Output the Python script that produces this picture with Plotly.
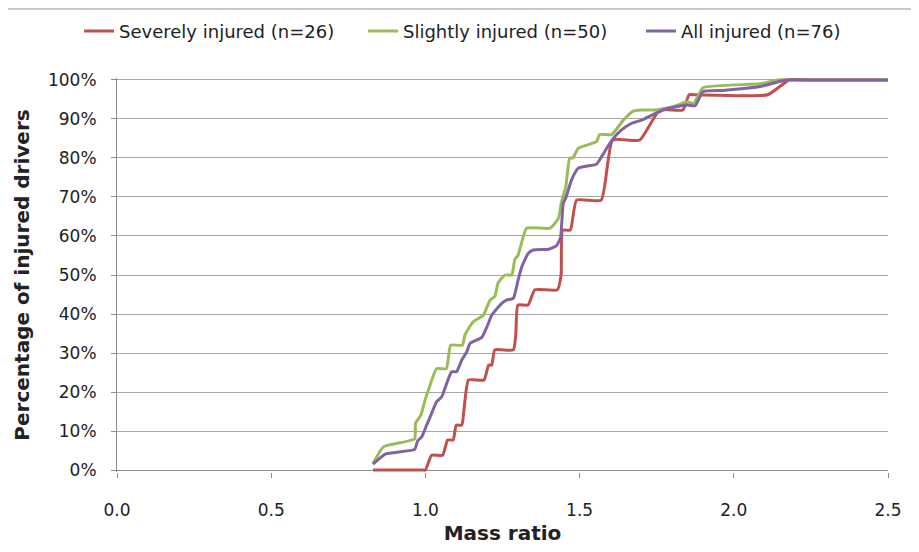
import plotly.graph_objects as go

# cumulative share of injured drivers vs mass ratio
severe_x = [0.83, 0.99, 1.00, 1.02, 1.056, 1.072, 1.09, 1.10, 1.118, 1.125, 1.14, 1.19, 1.205,
            1.215, 1.225, 1.285, 1.293, 1.30, 1.333, 1.355, 1.428, 1.44, 1.445, 1.47, 1.49,
            1.57, 1.607, 1.695, 1.76, 1.835, 1.855, 1.875, 2.11, 2.18, 2.25, 2.5]
severe_y = [0, 0, 0, 3.8, 3.8, 7.7, 7.7, 11.5, 11.5, 15.4, 23.1, 23.1, 26.9,
            26.9, 30.8, 30.8, 34.6, 42.3, 42.3, 46.2, 46.2, 50.0, 61.5, 61.5, 69.2,
            69.2, 84.6, 84.6, 92.3, 92.3, 96.2, 96.2, 96.2, 100, 100, 100]

slight_x = [0.83, 0.865, 0.965, 0.968, 0.985, 0.999, 1.01, 1.036, 1.068, 1.082, 1.12, 1.128,
            1.155, 1.188, 1.21, 1.225, 1.236, 1.258, 1.28, 1.29, 1.30, 1.31, 1.328, 1.404,
            1.431, 1.442, 1.455, 1.468, 1.478, 1.496, 1.555, 1.565, 1.604, 1.642, 1.674, 1.70,
            1.745, 1.805, 1.847, 1.87, 1.90, 2.085, 2.14, 2.2, 2.5]
slight_y = [1.7, 6, 8, 12, 14, 18, 20.5, 26, 26, 32, 32, 34.6,
            38, 39.7, 43.6, 44.5, 48, 50, 50, 54, 55, 57.7, 62, 62,
            64.5, 69, 72.5, 80, 80, 82.5, 84.2, 86, 86, 89.7, 92, 92.3,
            92.3, 93.2, 94.4, 94, 98, 99, 100, 100, 100]

all_x = [0.83, 0.87, 0.965, 0.975, 0.988, 1.004, 1.02, 1.036, 1.053, 1.069, 1.085, 1.101,
         1.118, 1.134, 1.145, 1.183, 1.20, 1.215, 1.242, 1.264, 1.285, 1.30, 1.312, 1.333,
         1.35, 1.40, 1.425, 1.438, 1.447, 1.455, 1.474, 1.496, 1.555, 1.565, 1.588, 1.609,
         1.636, 1.669, 1.701, 1.735, 1.771, 1.815, 1.847, 1.875, 1.90, 1.966, 2.085, 2.17,
         2.23, 2.5]
all_y = [1.5, 4.1, 5.3, 7.5, 8.5, 11.5, 14.5, 17.5, 18.8, 22.2, 25.2, 25.2,
         28.2, 30.3, 32.5, 34, 36.8, 39.7, 42.3, 43.6, 44, 48.5, 52, 55.5,
         56.4, 56.6, 57.5, 59.5, 68.4, 69.7, 74.4, 77.4, 78.4, 79.5, 82.5, 85,
         87.2, 88.9, 89.7, 91, 92.3, 93.2, 93.6, 93.4, 97, 97.3, 98.3, 100,
         100, 100]

series = [
    ("Severely injured (n=26)", severe_x, severe_y, "#C0504D", "legend", 0.0773),
    ("Slightly injured (n=50)", slight_x, slight_y, "#9BBB59", "legend2", 0.3863),
    ("All injured (n=76)", all_x, all_y, "#8064A2", "legend3", 0.6888),
]

fig = go.Figure()
legends = {}
for name, xs, ys, color, leg, lx in series:
    fig.add_trace(go.Scatter(x=xs, y=ys, mode="lines", name=name, legend=leg,
                             line=dict(color=color, width=3, shape="spline", smoothing=0.45)))
    # one legend per entry so each can sit where the reference puts it
    legends[leg] = dict(orientation="h", xref="container", yref="container",
                        x=lx, xanchor="left", y=0.958, yanchor="middle",
                        font=dict(size=18), bgcolor="rgba(0,0,0,0)")

font_name = "DejaVu Sans"
fig.update_layout(
    width=919, height=552,
    margin=dict(l=109, r=39, t=70, b=88, autoexpand=False),
    showlegend=True,
    plot_bgcolor="white", paper_bgcolor="white",
    font=dict(family=font_name, size=17, color="#222222"),
    shapes=[dict(type="line", xref="paper", yref="paper", x0=-0.1414, x1=1.05,
                 y0=1.1751, y1=1.1751, line=dict(color="#C8C8C8", width=2))],
    **legends,
)
fig.update_xaxes(range=[0, 2.5], dtick=0.5, tickformat=".1f", showgrid=False,
                 showline=False, zeroline=False,
                 ticks="outside", ticklen=5, tickcolor="#8C8C8C", ticklabelstandoff=18,
                 title=dict(text="<b>Mass ratio</b>", standoff=6))
fig.update_yaxes(range=[-0.5, 100.5], tick0=0, dtick=10, ticksuffix="%",
                 showgrid=True, gridcolor="#A6A6A6", gridwidth=1,
                 zeroline=True, zerolinecolor="#8C8C8C", zerolinewidth=1,
                 showline=True, linecolor="#8C8C8C", linewidth=1,
                 ticks="outside", ticklen=5, tickcolor="#8C8C8C", ticklabelstandoff=11,
                 title=dict(text="<b>Percentage of injured drivers</b>", standoff=12))

fig.write_html("out.html")
